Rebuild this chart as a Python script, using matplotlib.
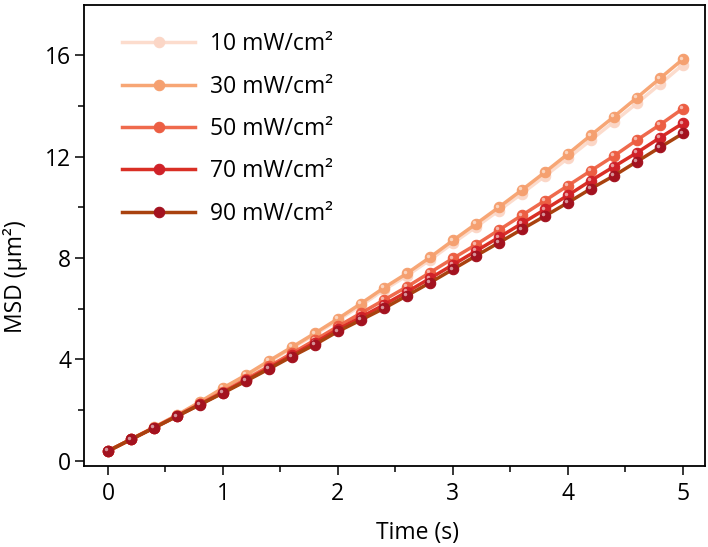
import numpy as np
import matplotlib
matplotlib.use("Agg")
from matplotlib import pyplot as plt
from matplotlib import transforms
from matplotlib.ticker import MultipleLocator

plt.rcParams['font.family'] = ['Open Sans', 'DejaVu Sans']

time = np.round(np.arange(0, 5.01, 0.2), 1)

msd_10 = [0.38, 0.85, 1.31, 1.79, 2.30, 2.84, 3.35, 3.90, 4.44, 4.98, 5.54, 6.12,
          6.74, 7.30, 7.92, 8.58, 9.22, 9.87, 10.54, 11.23, 11.93, 12.65, 13.37,
          14.10, 14.85, 15.62]
msd_30 = [0.38, 0.85, 1.32, 1.80, 2.32, 2.87, 3.38, 3.94, 4.48, 5.03, 5.60, 6.20,
          6.82, 7.39, 8.02, 8.69, 9.34, 10.00, 10.68, 11.38, 12.10, 12.84, 13.57,
          14.32, 15.08, 15.84]
msd_50 = [0.38, 0.84, 1.30, 1.77, 2.24, 2.72, 3.22, 3.72, 4.24, 4.76, 5.30, 5.82,
          6.34, 6.86, 7.42, 7.98, 8.52, 9.10, 9.68, 10.26, 10.85, 11.44, 12.02,
          12.65, 13.25, 13.89]
msd_70 = [0.38, 0.84, 1.30, 1.76, 2.22, 2.69, 3.17, 3.66, 4.16, 4.66, 5.18, 5.66,
          6.15, 6.66, 7.19, 7.73, 8.27, 8.81, 9.36, 9.91, 10.47, 11.05, 11.60,
          12.15, 12.74, 13.31]
msd_90 = [0.38, 0.84, 1.29, 1.75, 2.21, 2.67, 3.14, 3.62, 4.11, 4.58, 5.10, 5.55,
          6.01, 6.51, 7.02, 7.55, 8.08, 8.60, 9.13, 9.65, 10.18, 10.73, 11.24,
          11.80, 12.36, 12.91]

labels = ['10 mW/cm²', '30 mW/cm²', '50 mW/cm²', '70 mW/cm²', '90 mW/cm²']
series = [msd_10, msd_30, msd_50, msd_70, msd_90]
line_colors = ['#fcdccd', '#f7a675', '#ef6a4d', '#d92f25', '#a9420f']
marker_colors = ['#fbd6c6', '#f5a070', '#ec5e43', '#cf2128', '#a3121f']

fig = plt.figure(figsize=(7.08, 5.47), dpi=100)
ax = fig.add_axes([0.119, 0.148, 0.877, 0.843])

# small white offset dot to fake the glossy sphere markers
hl = transforms.offset_copy(ax.transData, fig=fig, x=-1.2, y=1.2, units='points')

handles = []
for y, lab, lc, mc in zip(series, labels, line_colors, marker_colors):
    ln, = ax.plot(time, y, '-', color=lc, lw=2.5, marker='o', ms=7.5,
                  mfc=mc, mec=mc, mew=0.8, label=lab)
    ax.plot(time, y, 'o', ms=2.5, mfc='white', mec='none', alpha=0.55,
            transform=hl)
    handles.append(ln)

ax.set_xlim(-0.206, 5.194)
ax.set_ylim(-0.21, 17.98)
ax.xaxis.set_major_locator(MultipleLocator(1))
ax.xaxis.set_minor_locator(MultipleLocator(0.5))
ax.yaxis.set_major_locator(MultipleLocator(4))
ax.yaxis.set_minor_locator(MultipleLocator(2))

for s in ax.spines.values():
    s.set_linewidth(1.3)
ax.tick_params(which='major', direction='out', length=6.5, width=1.1,
               labelsize=16.5)
ax.tick_params(which='minor', direction='out', length=4, width=1.1)
ax.tick_params(axis='x', which='major', pad=5)
ax.tick_params(axis='y', which='major', pad=3)

ax.set_xlabel('Time (s)', fontsize=16.5)
ax.xaxis.set_label_coords(0.537, -0.12)
ax.set_ylabel('MSD (μm²)', fontsize=16.5)
ax.yaxis.set_label_coords(-0.09, 0.41)

ax.legend(handles=handles, loc='upper left', bbox_to_anchor=(0.035, 0.975),
          frameon=False, fontsize=16.5, handlelength=3.2, handletextpad=0.65,
          labelspacing=0.8, borderaxespad=0.3)

plt.savefig('out.png', dpi=100)
